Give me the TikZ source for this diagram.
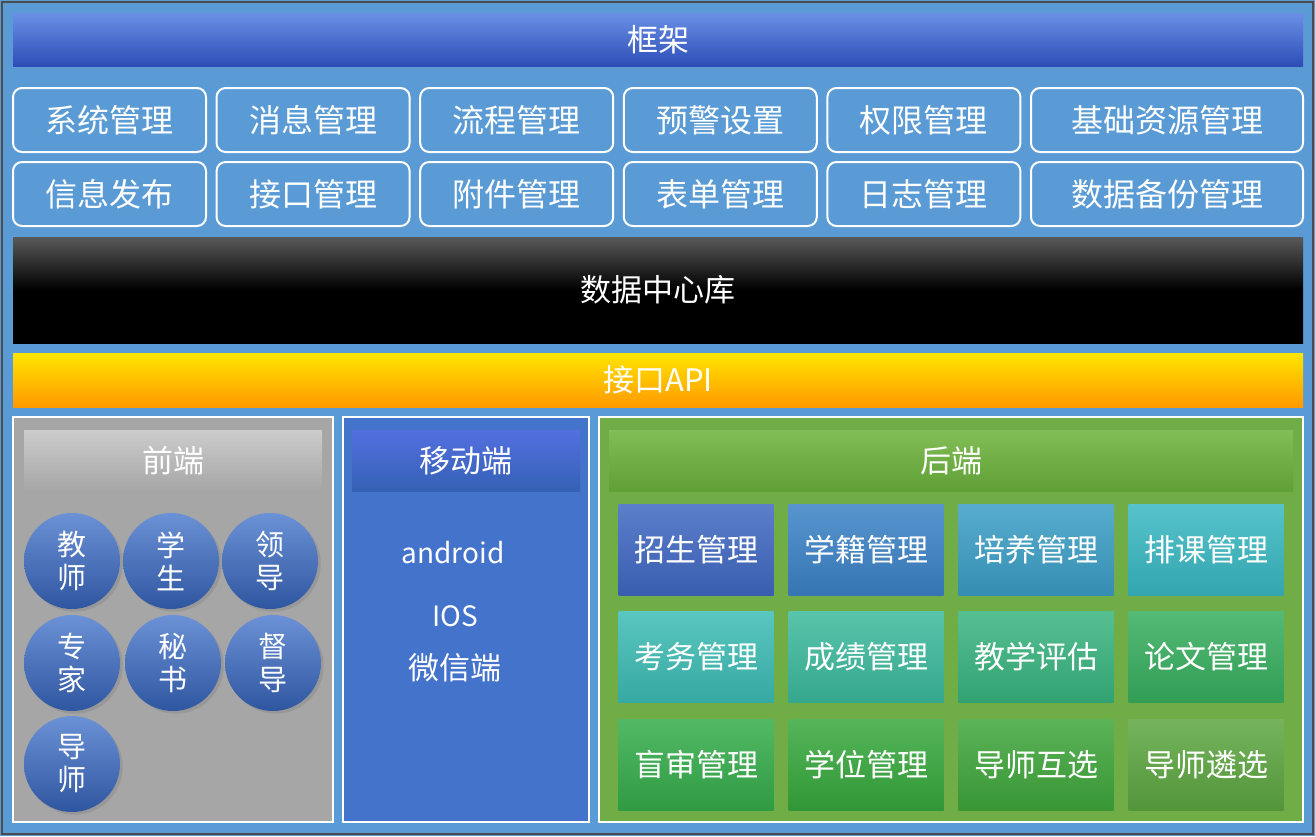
\documentclass[tikz,border=0pt]{standalone}
\usepackage{fontspec}
\usetikzlibrary{shadows}
\setmainfont{Noto Sans CJK SC}
\begin{document}
\begin{tikzpicture}[x=1pt,y=-1pt,
  rowbox/.style={draw=white,line width=2pt,rounded corners=9pt,fill=bgblue,text=white,font=\fontsize{32}{34}\selectfont},
  panel/.style={draw=white,line width=2pt},
  hdr/.style={font=\fontsize{31}{33}\selectfont,text=white},
  person/.style={circle,minimum size=96pt,inner sep=0pt,top color=pblue!75!white,bottom color=pblue!80!black,drop shadow={opacity=0.35},text=white,align=center,font=\fontsize{29}{33}\selectfont},
  gbox/.style={minimum width=155pt,minimum height=91pt,inner sep=0pt,text=white,font=\fontsize{31}{33}\selectfont}]
\definecolor{bgblue}{HTML}{5B9BD5}
\definecolor{pblue}{HTML}{3A6CC8}
\fill[bgblue] (0,0) rectangle (1315,836);
\draw[line width=2pt,color=black!70] (2,2) rectangle (1313,834);
\shade[top color=blue!25!bgblue!80!white,bottom color=blue!60!black!50!bgblue] (13,13) rectangle (1303,66);
\node[hdr] (kj) at (658,40) {框架};
\foreach \t [count=\i] in {系统管理,消息管理,流程管理,预警设置,权限管理}{
  \draw[rowbox] ({13+(\i-1)*203.6},88) rectangle ++(193,64) node[midway] (ra\i) {\t};}
\draw[rowbox] (1031,88) rectangle (1303,152) node[midway] (ra6) {基础资源管理};
\foreach \t [count=\i] in {信息发布,接口管理,附件管理,表单管理,日志管理}{
  \draw[rowbox] ({13+(\i-1)*203.6},162) rectangle ++(193,64) node[midway] (rb\i) {\t};}
\draw[rowbox] (1031,162) rectangle (1303,226) node[midway] (rb6) {数据备份管理};
\shade[top color=black!65,bottom color=black,middle color=black] (13,237) rectangle (1303,343);
\node[hdr] (db) at (658,290) {数据中心库};
\shade[top color=yellow!80!orange,bottom color=orange!80!yellow] (13,353) rectangle (1303,407);
\node[hdr] (api) at (658,380) {接口API};
% panels
\draw[panel,fill=black!35] (13,417) rectangle (333,822);
\shade[top color=black!20,bottom color=black!35] (24,430) rectangle (322,491);
\node[hdr] (qd) at (173,461) {前端};
\draw[panel,fill=pblue!95!white] (343,417) rectangle (589,822);
\shade[top color=blue!30!pblue!80!white,bottom color=pblue!90!black] (352,430) rectangle (580,491);
\node[hdr] (yd) at (466,461) {移动端};
\node[hdr,font=\fontsize{28}{30}\selectfont] (m1) at (453,553) {android};
\node[hdr,font=\fontsize{28}{30}\selectfont] (m2) at (455,616) {IOS};
\node[hdr] (m3) at (455,668) {微信端};
\draw[panel] (599,417) rectangle (1303,822);
\fill[color={rgb,255:red,112;green,173;blue,71}] (600,418) rectangle (1302,821);
\shade[top color={rgb,255:red,130;green,190;blue,85},bottom color={rgb,255:red,95;green,160;blue,55}] (609,430) rectangle (1293,491);
\node[hdr] (hd) at (951,461) {后端};
% persons
\node[person] (p1) at (72,561) {教\\师};
\node[person] (p2) at (171,561) {学\\生};
\node[person] (p3) at (270,561) {领\\导};
\node[person] (p4) at (72,663) {专\\家};
\node[person] (p5) at (173,663) {秘\\书};
\node[person] (p6) at (273,663) {督\\导};
\node[person] (p7) at (72,764) {导\\师};
% green boxes
\def\gb#1#2#3#4{\node[gbox,top color=#3!85!white,bottom color=#3!90!black] (#1) at #2 {#4};}
\definecolor{c1}{HTML}{3F68C2}\definecolor{c2}{HTML}{3A82C6}\definecolor{c3}{HTML}{3A9EC6}\definecolor{c4}{HTML}{38B8C2}
\definecolor{c5}{HTML}{3CBCB4}\definecolor{c6}{HTML}{3BBA9C}\definecolor{c7}{HTML}{38B47E}\definecolor{c8}{HTML}{36AE5E}
\definecolor{c9}{HTML}{34AC4A}\definecolor{c10}{HTML}{36A83C}\definecolor{c11}{HTML}{3EA63A}\definecolor{c12}{HTML}{5CA640}
\gb{g1}{(696,550)}{c1}{招生管理}
\gb{g2}{(866,550)}{c2}{学籍管理}
\gb{g3}{(1036,550)}{c3}{培养管理}
\gb{g4}{(1206,550)}{c4}{排课管理}
\gb{g5}{(696,657)}{c5}{考务管理}
\gb{g6}{(866,657)}{c6}{成绩管理}
\gb{g7}{(1036,657)}{c7}{教学评估}
\gb{g8}{(1206,657)}{c8}{论文管理}
\gb{g9}{(696,765)}{c9}{盲审管理}
\gb{g10}{(866,765)}{c10}{学位管理}
\gb{g11}{(1036,765)}{c11}{导师互选}
\gb{g12}{(1206,765)}{c12}{导师遴选}
\useasboundingbox (0,0) rectangle (1315,836);
\end{tikzpicture}
\end{document}
